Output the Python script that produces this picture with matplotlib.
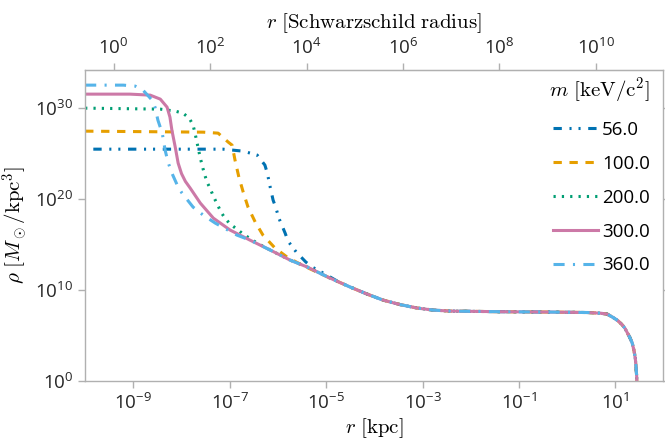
import numpy as np
import matplotlib
matplotlib.use("Agg")
import matplotlib.pyplot as plt

plt.rcParams["font.family"] = ["Open Sans", "DejaVu Sans"]
plt.rcParams["mathtext.fontset"] = "cm"
plt.rcParams["lines.scale_dashes"] = False

# particle masses (keV/c^2) and density profiles, log10 r [kpc] vs log10 rho [Msun/kpc^3]
masses = ["56.0", "100.0", "200.0", "300.0", "360.0"]

# common outer halo, shared by all masses once the cores have merged
tail_logr = [-6.58, -6.16, -5.75, -5.39, -4.92, -4.50, -4.15, -3.82, -3.47, -3.11,
             -2.78, -2.43, -1.39, -0.35, 0.42, 0.68, 0.83, 0.95, 1.05, 1.14,
             1.20, 1.25, 1.30, 1.35, 1.39, 1.415, 1.43, 1.445, 1.455]
tail_logrho = [15.49, 14.40, 13.30, 12.53, 11.32, 10.33, 9.56, 8.90, 8.41, 8.02,
               7.80, 7.69, 7.62, 7.58, 7.53, 7.46, 7.36, 7.00, 6.65, 6.20,
               5.80, 5.30, 4.80, 4.20, 3.30, 2.50, 1.60, 0.40, -2.0]

core_logr_56 = [-9.83, -7.14, -6.72, -6.43, -6.27, -6.22, -6.16, -6.10, -6.04, -5.98,
                -5.85, -5.79, -5.62, -5.42, -5.29, -5.06, -4.77]
core_logrho_56 = [25.49, 25.49, 25.27, 24.84, 23.74, 22.86, 21.32, 19.89, 19.01, 17.91,
                  16.26, 15.38, 14.18, 13.08, 12.53, 11.87, 10.99]

core_logr_100 = [-10.0, -7.55, -7.24, -7.03, -6.95, -6.89, -6.81, -6.72, -6.62, -6.47,
                 -6.31, -6.06, -5.81, -5.58, -5.37]
core_logrho_100 = [27.47, 27.36, 27.25, 26.26, 25.93, 24.29, 22.42, 20.77, 19.12, 17.47,
                   16.04, 14.62, 13.63, 12.97, 12.42]

core_logr_200 = [-10.0, -8.44, -8.13, -7.97, -7.84, -7.76, -7.72, -7.68, -7.61, -7.53,
                 -7.47, -7.41, -7.34, -7.26, -7.18, -7.10, -6.99, -6.85, -6.72, -6.43]
core_logrho_200 = [30.00, 29.89, 29.67, 29.45, 28.90, 28.13, 27.25, 26.26, 24.51, 22.86,
                   21.87, 21.21, 20.33, 19.45, 18.57, 17.91, 17.25, 16.70, 16.15, 15.16]

core_logr_300 = [-10.0, -9.07, -8.65, -8.44, -8.30, -8.24, -8.20, -8.13, -8.07, -8.00,
                 -7.92, -7.82, -7.61, -7.34, -6.99]
core_logrho_300 = [31.54, 31.54, 31.43, 30.99, 30.11, 29.01, 27.58, 25.71, 23.96, 22.80,
                   21.95, 21.21, 19.56, 17.91, 16.59]

core_logr_360 = [-10.0, -9.21, -8.96, -8.80, -8.61, -8.55, -8.49, -8.40, -8.34, -8.28,
                 -8.20, -8.07, -7.99, -7.76, -7.55, -7.30, -6.85]
core_logrho_360 = [32.53, 32.53, 32.42, 31.98, 30.88, 30.11, 28.68, 27.25, 25.38, 24.07,
                   22.86, 21.32, 20.66, 19.12, 18.24, 17.36, 16.04]

# log r where each profile joins the common tail
join_logr = [-4.50, -4.92, -6.16, -6.58, -6.58]

cores = [(core_logr_56, core_logrho_56), (core_logr_100, core_logrho_100),
         (core_logr_200, core_logrho_200), (core_logr_300, core_logrho_300),
         (core_logr_360, core_logrho_360)]

colors = ["#0072B2", "#E69F00", "#009E73", "#CC79A7", "#56B4E9"]
styles = [(0, (6, 5.5, 1.5, 5, 1.5, 5.5)), (0, (6, 5.5)), (0, (1.6, 4.4)),
          "-", (0, (8, 6, 1.5, 6))]

x_ticks = [1e-9, 1e-7, 1e-5, 1e-3, 1e-1, 1e1]
top_ticks = [1e0, 1e2, 1e4, 1e6, 1e8, 1e10]
y_ticks = [1e0, 1e10, 1e20, 1e30]
rs_kpc = 3.92e-10  # Schwarzschild radius of the central black hole in kpc

fig = plt.figure(figsize=(6.65, 4.41), dpi=100)
ax = fig.add_axes([0.128, 0.136, 0.869, 0.705])

tail_r = np.array(tail_logr)
tail_rho = np.array(tail_logrho)
for (cr, crho), j, m, c, ls in zip(cores, join_logr, masses, colors, styles):
    keep = tail_r >= j - 1e-6
    lr = np.concatenate([cr, tail_r[keep]])
    lrho = np.concatenate([crho, tail_rho[keep]])
    ax.plot(10 ** lr, 10 ** lrho, color=c, ls=ls, lw=2.2, label=m)

ax.set_xscale("log")
ax.set_yscale("log")
ax.set_xlim(1e-10, 10 ** 1.99)
ax.set_ylim(1, 10 ** 34.18)
ax.set_xticks(x_ticks)
ax.set_yticks(y_ticks)
ax.xaxis.set_minor_locator(matplotlib.ticker.NullLocator())
ax.yaxis.set_minor_locator(matplotlib.ticker.NullLocator())

grey = "#b0b0b0"
for s in ax.spines.values():
    s.set_color(grey)
    s.set_linewidth(1.0)
ax.tick_params(axis="both", which="major", direction="out", length=5, width=1,
               color=grey, labelsize=13.5, labelcolor="#262626", right=True)

ax.set_xlabel(r"$r\ [\mathrm{kpc}]$", fontsize=15, labelpad=2.5)
ax.set_ylabel(r"$\rho\ [M_\odot/\mathrm{kpc}^3]$", fontsize=15, labelpad=4)

top = ax.secondary_xaxis("top", functions=(lambda r: r / rs_kpc, lambda s: s * rs_kpc))
top.set_xticks(top_ticks)
top.xaxis.set_minor_locator(matplotlib.ticker.NullLocator())
top.spines["top"].set_color(grey)
top.tick_params(direction="out", length=5, width=1, color=grey,
                labelsize=13.5, labelcolor="#262626")
top.set_xlabel(r"$r\ [\mathrm{Schwarzschild\ radius}]$", fontsize=15, labelpad=7)

leg = ax.legend(title=r"$m\ [\mathrm{keV/c^2}]$", loc="upper right", frameon=False,
                bbox_to_anchor=(0.984, 0.995),
                fontsize=13.5, title_fontsize=15, handlelength=2.4, handletextpad=0.2,
                labelspacing=0.85, borderaxespad=0.0, borderpad=0.2, alignment="right")

fig.savefig("out.png", dpi=100)
